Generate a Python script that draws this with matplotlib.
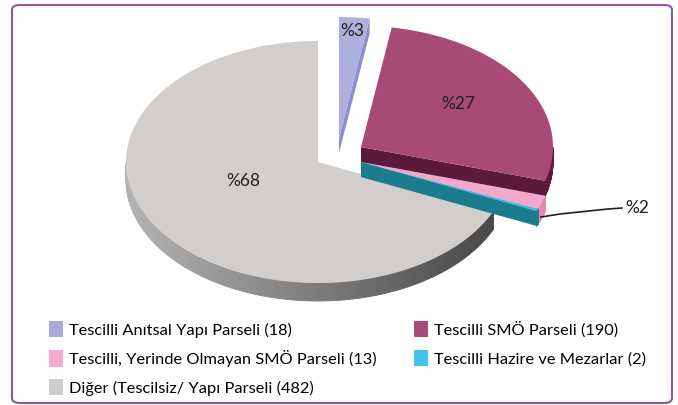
import matplotlib.pyplot as plt
import numpy as np
from matplotlib.patches import Polygon, Rectangle, FancyBboxPatch
from matplotlib.lines import Line2D

plt.rcParams['font.family'] = ['Lato', 'DejaVu Sans']

# data
labels = ["Tescilli Anıtsal Yapı Parseli (18)", "Tescilli SMÖ Parseli (190)",
          "Tescilli, Yerinde Olmayan SMÖ Parseli (13)", "Tescilli Hazire ve Mezarlar (2)",
          "Diğer (Tescilsiz/ Yapı Parseli (482)"]
values = [18, 190, 13, 2, 482]
pct_text = ["%3", "%27", "%2", "", "%68"]

# styling
top_col = ["#adb0dc", "#a84a78", "#f2a8cb", "#3cbfe3", "#d1cecc"]
side_col = ["#8c90d0", "#5b1a3c", "#e08ab0", "#1a7d8d", "#8a8a8a"]
legend_col = ["#a9abd9", "#a84a78", "#f6a9cc", "#44c3ea", "#cdcccc"]
offsets = [(21, -24), (43, -15), (43, 0), (43, 0), (0, 0)]
depths = [15, 15, 15, 15, 18]
label_xy = [(352, 31), (458, 104), None, None, (243, 181)]
cx, cy, a, b = 318, 162, 192, 121

fig = plt.figure(figsize=(6.78, 4.05), dpi=100)
ax = fig.add_axes([0, 0, 1, 1])
ax.set_xlim(0, 678)
ax.set_ylim(405, 0)
ax.axis('off')

frac = np.array(values) / sum(values)
ends = 90 - np.cumsum(frac) * 360
starts = np.r_[90, ends[:-1]]


def pt(x0, y0, t):
    r = np.radians(t)
    return x0 + a * np.cos(r), y0 - b * np.sin(r)


def draw_slice(i):
    t1, t2 = ends[i], starts[i]
    x0, y0 = cx + offsets[i][0], cy + offsets[i][1]
    depth = depths[i]
    # radial face on clockwise edge
    if np.cos(np.radians(t1)) > 0.01:
        px, py = pt(x0, y0, t1)
        ax.add_patch(Polygon([(x0, y0), (px, py), (px, py + depth), (x0, y0 + depth)],
                             closed=True, fc=side_col[i], ec='none'))
    # rim side, front part only
    ts = np.linspace(t1, t2, 200)
    vis = np.sin(np.radians(ts)) < 0
    if vis.any():
        tv = ts[vis]
        base = np.array(plt.matplotlib.colors.to_rgb(side_col[i]))
        for k in range(len(tv) - 1):
            xa, ya = pt(x0, y0, tv[k])
            xb, yb = pt(x0, y0, tv[k + 1])
            if i == 4:
                s = np.cos(np.radians(tv[k]))
                c = np.clip(base + 0.22 * (-s) - 0.06, 0, 1)
            else:
                c = base
            ax.add_patch(Polygon([(xa, ya), (xb, yb), (xb, yb + depth), (xa, ya + depth)],
                                 closed=True, fc=c, ec=c, lw=0.6))
    # top face
    tt = np.linspace(t1, t2, 300)
    xs, ys = pt(x0, y0, tt)
    ax.add_patch(Polygon(np.c_[np.r_[x0, xs], np.r_[y0, ys]], closed=True,
                         fc=top_col[i], ec='none'))


for i in [4, 0, 2, 3, 1]:
    draw_slice(i)

for i, t in enumerate(pct_text):
    if label_xy[i] is not None:
        ax.text(*label_xy[i], t, fontsize=12.5, ha='center', va='center', color='#231f20')

# leader for the small slice
ax.add_line(Line2D([541, 560, 608, 622], [217, 214, 209, 208], color='#231f20', lw=1.2))
ax.text(625, 208, pct_text[2], fontsize=12.5, ha='left', va='center', color='#231f20')

order = [0, 2, 4, 1, 3]
handles = [Rectangle((0, 0), 1, 1, fc=legend_col[j], ec='none') for j in order]
fig.legend(handles, [labels[j] for j in order], ncol=2, loc='upper left',
           bbox_to_anchor=(0.073, 0.207), frameon=False, fontsize=11.75,
           handlelength=0.85, handleheight=1.15, handletextpad=0.35,
           labelspacing=0.75, columnspacing=2.3, borderaxespad=0, borderpad=0)

fig.patches.append(FancyBboxPatch((12 / 678, 2 / 405), 660 / 678, 398 / 405,
                                  boxstyle="round,pad=0,rounding_size=0.012",
                                  transform=fig.transFigure, fc='none',
                                  ec='#8c55a8', lw=1.5))

fig.savefig("out.png", dpi=100)
